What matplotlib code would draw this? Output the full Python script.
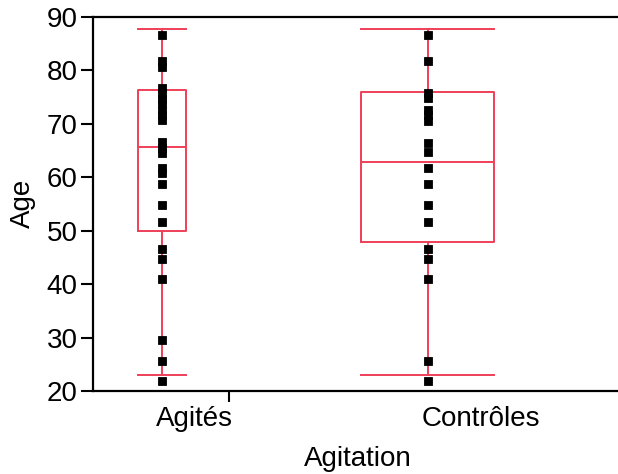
import numpy as np
import matplotlib as mpl
mpl.use('Agg')
import matplotlib.pyplot as plt
from matplotlib.transforms import ScaledTranslation

plt.rcParams['font.family'] = ['Liberation Sans', 'DejaVu Sans']

# groups and box summary
categories = ['Agités', 'Contrôles']
q1 = [50.0, 47.8]
medians = [65.6, 62.8]
q3 = [76.2, 75.8]
whislo = [23.0, 23.0]
whishi = [87.6, 87.6]

# individual ages
agites_ages = [86.6, 81.6, 80.6, 76.6, 75.6, 74.6, 73.6, 72.6, 71.6, 70.7,
               66.5, 65.5, 64.4, 61.7, 60.7, 58.6, 54.7, 51.6, 46.6, 44.6,
               40.9, 29.5, 25.7, 21.9]
controles_ages = [86.6, 81.6, 75.7, 74.7, 72.6, 71.5, 70.5, 66.4, 64.6, 61.6,
                  58.6, 54.7, 51.6, 46.6, 44.6, 40.9, 25.7, 21.9]

red = '#EE4058'
fig = plt.figure(figsize=(6.18, 4.74), dpi=100)
ax = fig.add_axes([93/618, 1 - 391/474, 530/618, 374.5/474])

positions = [1, 2]
widths = [0.18, 0.5]
stats = []
for i, name in enumerate(categories):
    stats.append(dict(label=name, med=medians[i], q1=q1[i], q3=q3[i],
                      whislo=whislo[i], whishi=whishi[i], fliers=[]))

line_kw = dict(color=red, linewidth=1.4)
ax.bxp(stats, positions=positions, widths=widths, capwidths=widths,
       showfliers=False, boxprops=line_kw, whiskerprops=line_kw,
       capprops=line_kw, medianprops=line_kw)

for pos, ages in zip(positions, [agites_ages, controles_ages]):
    ax.plot(np.full(len(ages), pos), ages, linestyle='none', marker='s',
            markersize=5.5, markeredgewidth=0.6, color='black', zorder=5)

ax.set_xlim(0.742, 2.734)
ax.set_ylim(20, 90)
ax.set_yticks(np.arange(20, 91, 10))
ax.set_xticks(positions)
ax.set_xticklabels(categories)
ax.set_xticks([1.253], minor=True)
ax.tick_params(axis='x', which='major', length=0, pad=11, labelsize=20)
ax.tick_params(axis='x', which='minor', length=8, width=1.5)
ax.tick_params(axis='y', length=9, width=1.5, pad=2, labelsize=20)
for lbl in ax.get_xticklabels():
    lbl.set_horizontalalignment('left')
    lbl.set_transform(lbl.get_transform() +
                      ScaledTranslation(-0.06, 0, fig.dpi_scale_trans))

for side in ['left', 'bottom', 'top']:
    ax.spines[side].set_linewidth(1.6)
ax.spines['right'].set_visible(False)

ax.set_xlabel('Agitation', fontsize=20, labelpad=10)
ax.set_ylabel('Age', fontsize=20, labelpad=8)

fig.savefig('out.png', dpi=100)
